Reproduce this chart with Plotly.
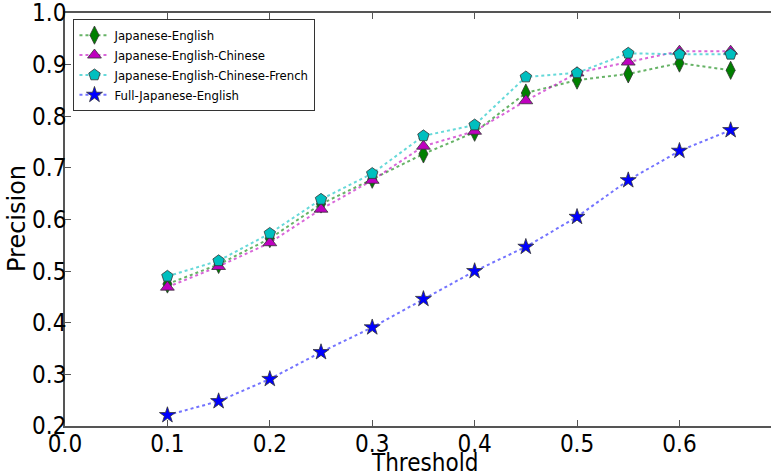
import plotly.graph_objects as go

thresholds = [0.1, 0.15, 0.2, 0.25, 0.3, 0.35, 0.4, 0.45, 0.5, 0.55, 0.6, 0.65]
je = [0.475, 0.513, 0.563, 0.630, 0.678, 0.727, 0.769, 0.845, 0.870, 0.882, 0.903, 0.889]
jec = [0.469, 0.509, 0.555, 0.620, 0.676, 0.742, 0.771, 0.830, 0.884, 0.905, 0.926, 0.926]
jecf = [0.490, 0.520, 0.573, 0.639, 0.689, 0.762, 0.783, 0.876, 0.884, 0.922, 0.920, 0.920]
full = [0.221, 0.248, 0.291, 0.343, 0.391, 0.446, 0.500, 0.547, 0.605, 0.676, 0.733, 0.773]
x_ticks = [0, 0.1, 0.2, 0.3, 0.4, 0.5, 0.6]
y_ticks = [0.2, 0.3, 0.4, 0.5, 0.6, 0.7, 0.8, 0.9, 1.0]

series = [
    ("Japanese-English", je, "#008000", "rgba(0,128,0,0.6)", "diamond-tall", 13),
    ("Japanese-English-Chinese", jec, "#bf00bf", "rgba(191,0,191,0.6)", "triangle-up", 12),
    ("Japanese-English-Chinese-French", jecf, "#00bfbf", "rgba(0,191,191,0.6)", "pentagon", 12),
    ("Full-Japanese-English", full, "#0000ff", "rgba(0,0,255,0.55)", "star", 12),
]

fig = go.Figure()
for name, ys, mc, lc, sym, sz in series:
    fig.add_trace(go.Scatter(
        x=thresholds, y=ys, name=name, mode="lines+markers",
        line=dict(color=lc, width=2, dash="dot"),
        marker=dict(symbol=sym, size=sz, color=mc, line=dict(color="#333333", width=0.8)),
    ))

cond = "DejaVu Sans Condensed, DejaVu Sans"
font = "DejaVu Sans"
fig.update_layout(
    width=771, height=474,
    margin=dict(l=65, r=0, t=13, b=48),
    paper_bgcolor="white", plot_bgcolor="white",
    font=dict(family=cond, color="black"),
    showlegend=True,
    legend=dict(x=0.012, y=0.985, xanchor="left", yanchor="top",
                bgcolor="white", bordercolor="#333333", borderwidth=1,
                font=dict(size=13, family=cond), itemwidth=30, tracegroupgap=0),
    annotations=[
        dict(text="Threshold", xref="paper", yref="paper", x=(424 - 65) / 706,
             y=(426 - 463) / 413, xanchor="center", yanchor="middle", showarrow=False,
             font=dict(size=24, family=cond)),
        dict(text="Precision", xref="paper", yref="paper", x=(17 - 65) / 706,
             y=(426 - 218) / 413, xanchor="center", yanchor="middle", showarrow=False,
             textangle=-90, font=dict(size=24, family=font)),
    ],
)
fig.update_xaxes(
    range=[0, 0.6894], tickvals=x_ticks, ticktext=[f"{v:.1f}" for v in x_ticks],
    tickfont=dict(size=24, family=cond), showgrid=False, zeroline=False,
    showline=True, linecolor="#555555", linewidth=1.5, mirror="ticks",
    ticks="inside", ticklen=6, tickcolor="#555555",
    ticklabeloverflow="allow", ticklabelstandoff=-5, automargin=False,
)
fig.update_yaxes(
    range=[0.2, 1.0], tickvals=y_ticks, ticktext=[f"{v:.1f}" for v in y_ticks],
    tickfont=dict(size=24, family=cond), showgrid=False, zeroline=False,
    showline=True, linecolor="#555555", linewidth=1.5, mirror=False,
    ticks="inside", ticklen=6, tickcolor="#555555",
    ticklabeloverflow="allow", ticklabelstandoff=-8, automargin=False,
)
fig.write_html("out.html")
